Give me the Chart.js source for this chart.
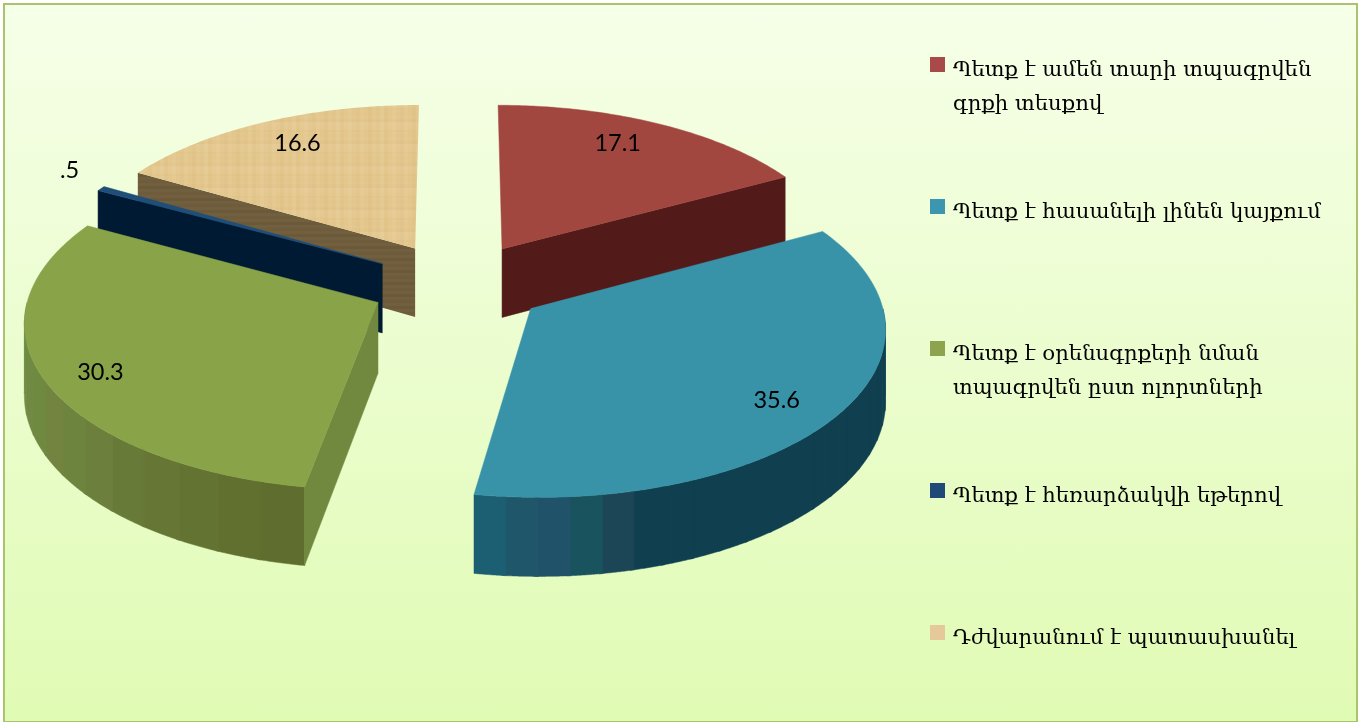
<!DOCTYPE html>
<html lang="hy">
<head>
<meta charset="utf-8">
<title>Chart</title>
<script src="https://cdn.jsdelivr.net/npm/chart.js@4"></script>
<style>
    html, body { margin: 0; padding: 0; background: #fff; }
    #frame {
        position: absolute; left: 3px; top: 3px; width: 1351px; height: 716px;
        border: 2px solid #a9c46c; border-bottom-width: 1px;
        background: linear-gradient(#f6ffe8, #e0fbb4);
        box-sizing: content-box;
    }
    .legend-item {
        position: absolute; left: 953px; font-family: 'DejaVu Serif', 'DejaVu Sans', serif;
        font-size: 21.2px; line-height: 34px; color: #000; white-space: nowrap;
    }
    .legend-box { position: absolute; left: 930px; width: 15px; height: 15px; }
</style>
</head>
<body>
<div id="frame"></div>
<canvas id="pieChart" width="1362" height="722" style="position:absolute;left:0;top:0"></canvas>
<div id="legend"></div>
<script>
// --- Data ---
const categories = [
    ['Պետք է ամեն տարի տպագրվեն', 'գրքի տեսքով'],
    ['Պետք է հասանելի լինեն կայքում'],
    ['Պետք է օրենսգրքերի նման', 'տպագրվեն ըստ ոլորտների'],
    ['Պետք է հեռարձակվի եթերով'],
    ['Դժվարանում է պատասխանել']
];
const values = [17.1, 35.6, 30.3, 0.5, 16.6];

// --- Colours ---
const topColors = ['#a24640', '#3893a9', '#88a348', '#1f4e79', '#e3c68c'];
const sideColors = ['#531a1a', '#104050', '#70893f', '#001a33', '#6f5c3c'];
const legendColors = ['#a8494a', '#3d96b0', '#8da34e', '#1f4a78', '#e6c99b'];
const tealBands = [...Array(16).fill('#104050'), '#1c4656', '#19535e', '#20526a', '#1f566a', '#1c5f72'];
const greenBands = ['#5f6e2e', '#62702f', '#637332', '#667634', '#687a37', '#6c7f3c', '#6d843f', '#72843f', '#6f8a40', '#708a44', '#758a42', '#6e8c42'];
const tanStripes = ['#e3c78e', '#e1c48a', '#e5ca94', '#e2c68c', '#dfc286', '#e4c991', '#e2c58b', '#e6cc98', '#e0c388', '#e4c88f', '#e7cd9a'];
const tanWallStripes = ['#6f5c3c', '#725f3e', '#6b5939', '#70603f'];
const outerBands = [null, tealBands, greenBands, null, null];

// --- Look of the 3D pie (perspective + thickness) ---
const PERSPECTIVE = 0.1;
const SQUASH = 0.4744;
const THICKNESS = 70;
const labelRadius = [0.81, 0.83, 0.85, 1.16, 0.81];
const labelTurn = [-3.3, 2.8, -2.1, 2.8, 1.9]; // degrees

// wood-like texture for the last slice
function stripePattern(ctx, tones, vertical) {
    const c = document.createElement('canvas');
    const n = tones.length;
    c.width = vertical ? n * 4 : 4;
    c.height = vertical ? n * 2 : n * 3;
    const g = c.getContext('2d');
    tones.forEach((t, i) => {
        g.fillStyle = t;
        if (vertical) g.fillRect(i * 4, 0, 4, c.height);
        else g.fillRect(0, i * 3, 4, 3);
    });
    if (vertical) {
        // fine grain across the stripes
        g.globalAlpha = 0.45;
        tones.forEach((t, i) => {
            g.fillStyle = tones[(i * 3) % n];
            g.fillRect(0, i * 2, c.width, 2);
        });
    }
    return ctx.createPattern(c, 'repeat');
}

// Draws the slices from the arcs that Chart.js has computed
const pie3d = {
    id: 'pie3d',
    beforeDatasetDraw(chart, args) {
        const ctx = chart.ctx;
        const arcs = args.meta.data;

        const project = (arc, angle, r, down) => {
            const mid = (arc.startAngle + arc.endAngle) / 2;
            const e = arc.options.offset / arc.outerRadius;
            const u = e * Math.cos(mid) + r * Math.cos(angle);
            const v = e * Math.sin(mid) + r * Math.sin(angle);
            const w = 1 / (1 - PERSPECTIVE * v);
            return {
                x: arc.x + arc.outerRadius * u * w,
                y: arc.y + arc.outerRadius * SQUASH * v * w + (down ? THICKNESS * w : 0)
            };
        };
        const fillPoly = (pts, fill) => {
            ctx.beginPath();
            pts.forEach((p, i) => i ? ctx.lineTo(p.x, p.y) : ctx.moveTo(p.x, p.y));
            ctx.closePath();
            ctx.fillStyle = fill;
            ctx.strokeStyle = fill;
            ctx.lineWidth = 0.5;
            ctx.fill();
            if (typeof fill === 'string') ctx.stroke();
        };
        // wall along the rim between two angles, as one shape
        const wall = (arc, a0, a1, fill) => {
            const upper = [];
            const lower = [];
            for (let s = 0; s <= 24; s++) {
                const a = a0 + (a1 - a0) * s / 24;
                upper.push(project(arc, a, 1, false));
                lower.unshift(project(arc, a, 1, true));
            }
            fillPoly(upper.concat(lower), fill);
        };

        // back slices first
        const order = arcs.map((a, i) => i).sort((a, b) =>
            Math.sin((arcs[a].startAngle + arcs[a].endAngle) / 2) -
            Math.sin((arcs[b].startAngle + arcs[b].endAngle) / 2));

        order.forEach(i => {
            const arc = arcs[i];
            const start = arc.startAngle;
            const end = arc.endAngle;
            const side = i === 4 ? stripePattern(ctx, tanWallStripes, false) : sideColors[i];

            // rounded wall, the part where the rim faces the viewer
            const from = Math.max(start, 0);
            const to = Math.min(end, Math.PI);
            if (to > from) {
                const bands = outerBands[i] || [side];
                bands.forEach((band, b) => {
                    const a0 = from + (to - from) * b / bands.length;
                    const a1 = from + (to - from) * (b + 1) / bands.length;
                    // small overlap so no seam shows between bands
                    wall(arc, a0, Math.min(a1 + 0.01, to), band);
                });
            }

            // flat sides, only those turned to the viewer
            [[start, start - Math.PI / 2], [end, end + Math.PI / 2]].forEach(([a, normal]) => {
                if (Math.sin(normal) > 0.01) {
                    fillPoly([
                        project(arc, a, 0, false), project(arc, a, 1, false),
                        project(arc, a, 1, true), project(arc, a, 0, true)
                    ], side);
                }
            });

            // top face
            const pts = [project(arc, start, 0, false)];
            for (let s = 0; s <= 96; s++) {
                pts.push(project(arc, start + (end - start) * s / 96, 1, false));
            }
            fillPoly(pts, i === 4 ? stripePattern(ctx, tanStripes, true) : topColors[i]);
        });

        // value labels
        ctx.font = "23.5px Lato, 'Open Sans', sans-serif";
        ctx.fillStyle = '#000';
        ctx.textAlign = 'center';
        ctx.textBaseline = 'middle';
        arcs.forEach((arc, i) => {
            const mid = (arc.startAngle + arc.endAngle) / 2 + labelTurn[i] * Math.PI / 180;
            const p = project(arc, mid, labelRadius[i], false);
            ctx.fillText(String(values[i]).replace(/^0/, ''), p.x, p.y);
        });
        return false;
    }
};

new Chart(document.getElementById('pieChart'), {
    type: 'pie',
    data: {
        labels: categories.map(c => c.join(' ')),
        datasets: [{
            data: values,
            backgroundColor: topColors,
            borderWidth: 0,
            offset: 88
        }]
    },
    options: {
        responsive: false,
        animation: false,
        radius: 347,
        layout: { padding: { right: 446, bottom: 154 } },
        plugins: { legend: { display: false }, tooltip: { enabled: false } }
    },
    plugins: [pie3d]
});

// --- Legend ---
function renderLegend() {
    const container = document.getElementById('legend');
    categories.forEach((lines, i) => {
        const top = 57 + i * 142;
        const box = document.createElement('div');
        box.className = 'legend-box';
        box.style.top = top + 'px';
        box.style.background = legendColors[i];
        container.appendChild(box);

        const text = document.createElement('div');
        text.className = 'legend-item';
        text.style.top = (top - 5) + 'px';
        text.innerHTML = lines.join('<br>');
        container.appendChild(text);
    });
}
renderLegend();
</script>
</body>
</html>
